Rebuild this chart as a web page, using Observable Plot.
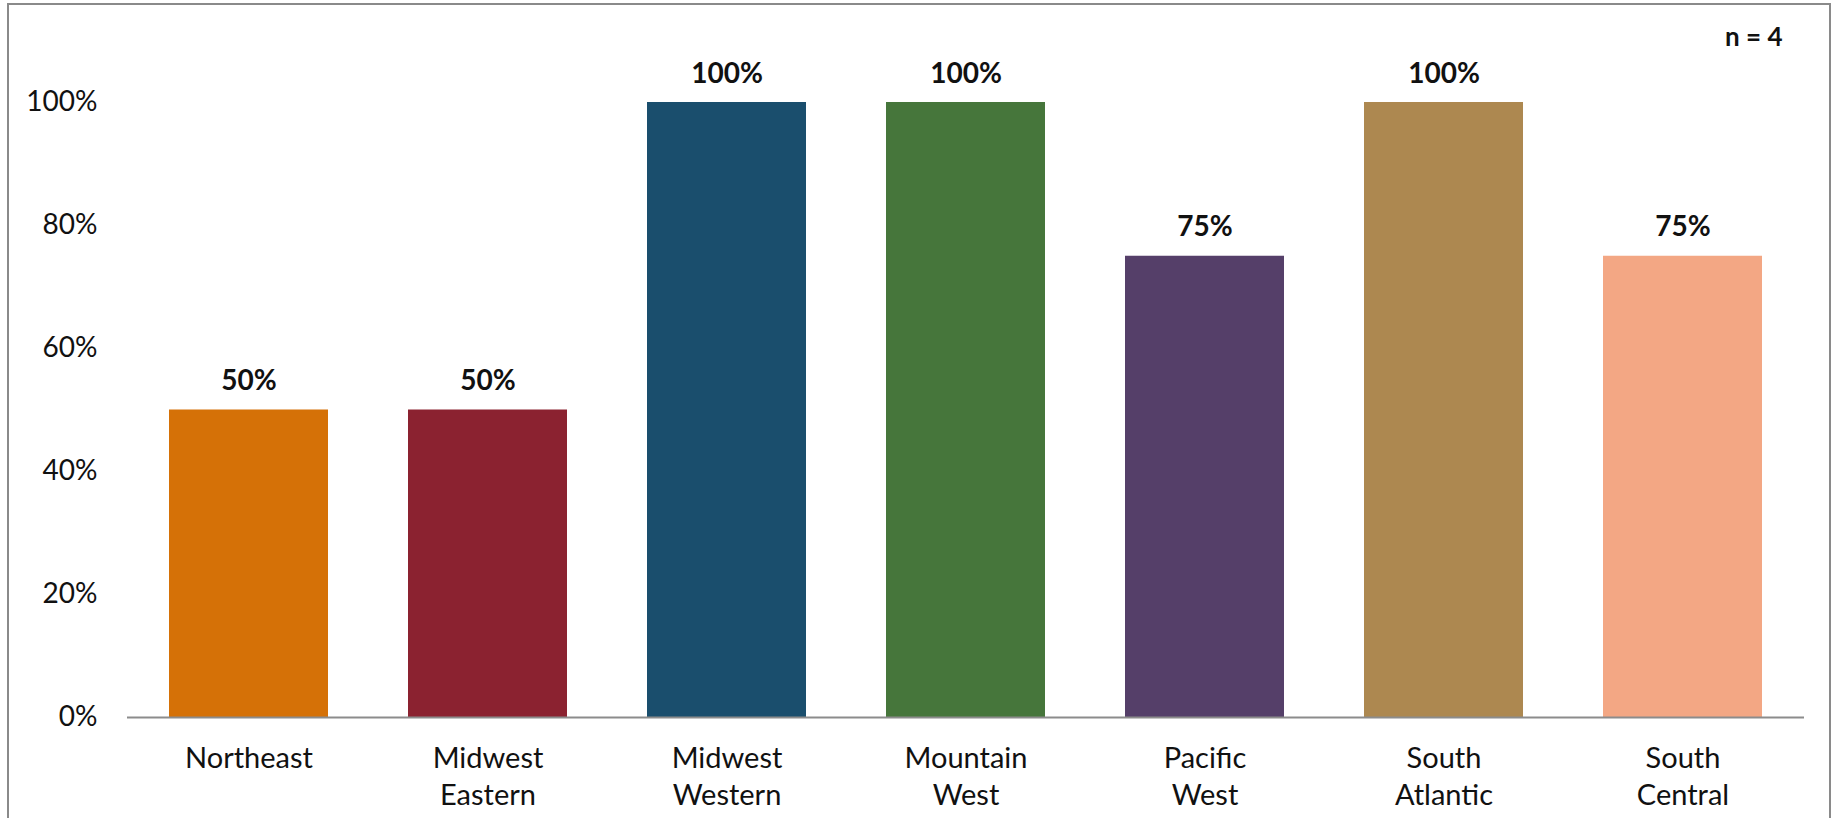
<!DOCTYPE html>
<html>
<head>
<meta charset="utf-8">
<script src="https://cdn.jsdelivr.net/npm/d3@7"></script>
<script src="https://cdn.jsdelivr.net/npm/@observablehq/plot@0.6"></script>
<style>
  html, body { margin: 0; padding: 0; background: #fff; overflow: hidden; }
  #wrap { position: relative; width: 1837px; height: 818px; }
  #border { position: absolute; left: 7px; top: 3px; width: 1824px; height: 840px; border: 2px solid #8a8a8a; box-sizing: border-box; pointer-events: none; }
</style>
</head>
<body>
<div id="wrap"><div id="chart"></div><div id="border"></div></div>
<script>
const regions = ["Northeast", "Midwest\nEastern", "Midwest\nWestern", "Mountain\nWest", "Pacific\nWest", "South\nAtlantic", "South\nCentral"];
const shares = [0.50, 0.50, 1.00, 1.00, 0.75, 1.00, 0.75];
const barColors = ["#D57107", "#8B2230", "#1A4E6D", "#46763B", "#553F69", "#AD8850", "#F3A784"];
const yTicks = [0, 0.2, 0.4, 0.6, 0.8, 1.0];
const sampleNote = "n = 4";

const data = regions.map((r, i) => ({region: r, value: shares[i], color: barColors[i]}));
const pct = d3.format(".0%");

const chart = Plot.plot({
  width: 1837,
  height: 818,
  marginLeft: 127,
  marginRight: 33,
  marginTop: 102,
  marginBottom: 101,
  style: {fontFamily: "Lato, 'Open Sans', sans-serif", fontSize: "28px", color: "#111", background: "#fff"},
  x: {domain: regions, paddingInner: 0.336, paddingOuter: 0.168, label: null},
  y: {domain: [0, 1], label: null},
  marks: [
    Plot.barY(data, {x: "region", y: "value", fill: "color"}),
    Plot.ruleY([0], {stroke: "#8c8c8c", strokeWidth: 2}),
    Plot.axisY({ticks: yTicks, tickFormat: pct, tickSize: 0, tickPadding: 30, fontSize: 28, label: null}),
    Plot.axisX({tickSize: 0, tickPadding: 24, fontSize: 29, lineHeight: 1.28, label: null}),
    Plot.text(data, {x: "region", y: "value", text: d => pct(d.value), lineAnchor: "bottom", dy: -20, fontWeight: "bold", fontSize: 28, fill: "#111"}),
    Plot.text([sampleNote], {frameAnchor: "top-right", text: d => d, textAnchor: "end", lineAnchor: "bottom", dx: -22, dy: -57, fontWeight: "bold", fontSize: 26, fill: "#111"})
  ]
});
document.getElementById("chart").appendChild(chart);
</script>
</body>
</html>
